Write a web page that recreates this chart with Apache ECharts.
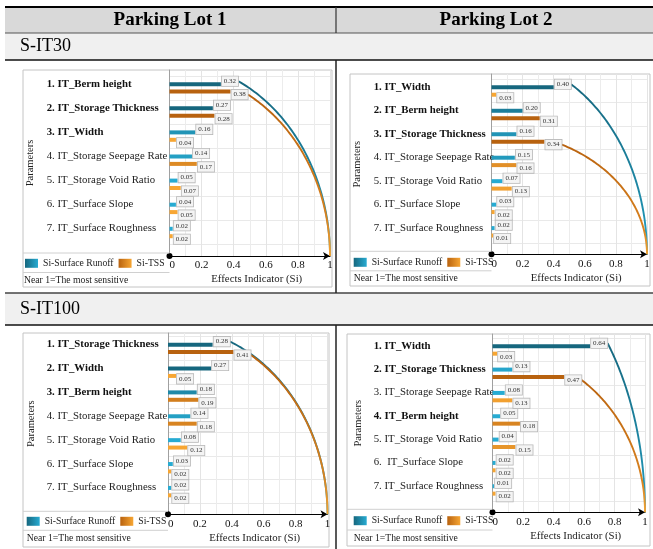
<!DOCTYPE html>
<html>
<head>
<meta charset="utf-8">
<script src="https://cdn.jsdelivr.net/npm/echarts@6/dist/echarts.min.js"></script>
<style>
html, body { margin: 0; padding: 0; background: #ffffff; }
#chart { width: 653px; height: 549px; }
</style>
</head>
<body>
<div id="chart"></div>
<script>
// Sensitivity index (Si) of the infiltration-trench (IT) parameters,
// for surface runoff and TSS, two parking lots and two storm scenarios.

const seriesNames = ['Si-Surface Runoff', 'Si-TSS'];
const tickLabels = ['0', '0.2', '0.4', '0.6', '0.8', '1'];
const lotNames = ['Parking Lot 1', 'Parking Lot 2'];
const scenarioNames = ['S-IT30', 'S-IT100'];

// Parking Lot 1, S-IT30
const lot1It30Params = ['1. IT_Berm height', '2. IT_Storage Thickness', '3. IT_Width',
  '4. IT_Storage Seepage Rate', '5. IT_Storage Void Ratio', '6. IT_Surface Slope', '7. IT_Surface Roughness'];
const lot1It30Runoff = [0.32, 0.27, 0.16, 0.14, 0.05, 0.04, 0.02];
const lot1It30Tss = [0.38, 0.28, 0.04, 0.17, 0.07, 0.05, 0.02];

// Parking Lot 2, S-IT30
const lot2It30Params = ['1. IT_Width', '2. IT_Berm height', '3. IT_Storage Thickness',
  '4. IT_Storage Seepage Rate', '5. IT_Storage Void Ratio', '6. IT_Surface Slope', '7. IT_Surface Roughness'];
const lot2It30Runoff = [0.40, 0.20, 0.16, 0.15, 0.07, 0.03, 0.02];
const lot2It30Tss = [0.03, 0.31, 0.34, 0.16, 0.13, 0.02, 0.01];

// Parking Lot 1, S-IT100
const lot1It100Params = ['1. IT_Storage Thickness', '2. IT_Width', '3. IT_Berm height',
  '4. IT_Storage Seepage Rate', '5. IT_Storage Void Ratio', '6. IT_Surface Slope', '7. IT_Surface Roughness'];
const lot1It100Runoff = [0.28, 0.27, 0.18, 0.14, 0.08, 0.03, 0.02];
const lot1It100Tss = [0.41, 0.05, 0.19, 0.18, 0.12, 0.02, 0.02];

// Parking Lot 2, S-IT100
const lot2It100Params = ['1. IT_Width', '2. IT_Storage Thickness', '3. IT_Storage Seepage Rate',
  '4. IT_Berm height', '5. IT_Storage Void Ratio', '6.  IT_Surface Slope', '7. IT_Surface Roughness'];
const lot2It100Runoff = [0.64, 0.13, 0.08, 0.05, 0.04, 0.02, 0.01];
const lot2It100Tss = [0.03, 0.47, 0.13, 0.18, 0.15, 0.02, 0.02];

const FONT = '"Liberation Serif", "Times New Roman", serif';

// panel layout (pixels)
const panels = [
  { params: lot1It30Params, runoff: lot1It30Runoff, tss: lot1It30Tss, bold: [0, 1, 2],
    box: [23, 70, 309, 217], x0: 169.5, x1: 330, catTop: 75.85, band: 24.1, axisY: 256,
    labelX: 46.7, paramX: 30, legend: [25, 264.3], near: [24, 280.7] },
  { params: lot2It30Params, runoff: lot2It30Runoff, tss: lot2It30Tss, bold: [0, 1, 2],
    box: [350, 74, 300, 212], x0: 491.5, x1: 647, catTop: 79.27, band: 23.47, axisY: 254.3,
    labelX: 373.7, paramX: 357.7, legend: [353.7, 263.3], near: [353.7, 278.3] },
  { params: lot1It100Params, runoff: lot1It100Runoff, tss: lot1It100Tss, bold: [0, 1, 2],
    box: [23, 333, 306, 214], x0: 168, x1: 327.5, catTop: 336.4, band: 23.88, axisY: 514.3,
    labelX: 46.7, paramX: 31.7, legend: [26.7, 522.3], near: [26.7, 538.3] },
  { params: lot2It100Params, runoff: lot2It100Runoff, tss: lot2It100Tss, bold: [0, 1, 3],
    box: [347, 334, 303, 212], x0: 492.5, x1: 645, catTop: 338.3, band: 23.33, axisY: 512.3,
    labelX: 373.7, paramX: 358.7, legend: [353.7, 521.7], near: [353.7, 538.3] }
];

const palette = {
  runoff: { dark: '#16677e', light: '#27abd2' },
  tss: { dark: '#b8620f', light: '#f7a633' }
};

const BAR_W = 4;
const BAR_GAP = 0.85;
const BAR_SHIFT = BAR_W * (1 + BAR_GAP) / 2;
const LABEL_SHIFT = 3;
const LABEL_W = 16.5;

function hexToRgb(h) {
  const n = parseInt(h.slice(1), 16);
  return [(n >> 16) & 255, (n >> 8) & 255, n & 255];
}
function mix(c1, c2, t) {
  const a = hexToRgb(c1), b = hexToRgb(c2);
  const r = a.map((v, i) => Math.round(v + (b[i] - v) * t));
  return 'rgb(' + r.join(',') + ')';
}
function barColor(kind, v) {
  const t = Math.max(0, Math.min(1, (v - 0.12) / 0.12));
  return mix(palette[kind].light, palette[kind].dark, t);
}
function hGradient(kind) {
  return new echarts.graphic.LinearGradient(0, 0, 1, 0, [
    { offset: 0, color: palette[kind].dark },
    { offset: 1, color: palette[kind].light }
  ]);
}
function vGradient(kind) {
  return new echarts.graphic.LinearGradient(0, 0, 0, 1, [
    { offset: 0, color: palette[kind].dark },
    { offset: 0.75, color: kind === 'runoff' ? '#1f8fae' : '#d9821f' },
    { offset: 1, color: palette[kind].light }
  ]);
}
function argMax(arr) {
  let k = 0;
  arr.forEach((v, i) => { if (v > arr[k]) k = i; });
  return k;
}

const grid = [], xAxis = [], yAxis = [], series = [], legend = [], graphic = [];

// table backgrounds and rules
graphic.push(
  { type: 'rect', z: -20, shape: { x: 5, y: 8, width: 648, height: 25 }, style: { fill: '#d9d9d9' } },
  { type: 'rect', z: -20, shape: { x: 5, y: 33, width: 648, height: 27 }, style: { fill: '#f0f0f0' } },
  { type: 'rect', z: -20, shape: { x: 5, y: 293, width: 648, height: 32 }, style: { fill: '#f0f0f0' } },
  { type: 'line', z: 20, shape: { x1: 5, y1: 7, x2: 653, y2: 7 }, style: { stroke: '#000', lineWidth: 2 } },
  { type: 'line', z: 20, shape: { x1: 5, y1: 33, x2: 653, y2: 33 }, style: { stroke: '#555', lineWidth: 1 } },
  { type: 'line', z: 20, shape: { x1: 5, y1: 60, x2: 653, y2: 60 }, style: { stroke: '#111', lineWidth: 1.5 } },
  { type: 'line', z: 20, shape: { x1: 5, y1: 293, x2: 653, y2: 293 }, style: { stroke: '#444', lineWidth: 1.5 } },
  { type: 'line', z: 20, shape: { x1: 5, y1: 325, x2: 653, y2: 325 }, style: { stroke: '#111', lineWidth: 1.5 } },
  { type: 'line', z: 20, shape: { x1: 336, y1: 7, x2: 336, y2: 33 }, style: { stroke: '#333', lineWidth: 1.2 } },
  { type: 'line', z: 20, shape: { x1: 336, y1: 60, x2: 336, y2: 293 }, style: { stroke: '#222', lineWidth: 1.5 } },
  { type: 'line', z: 20, shape: { x1: 336, y1: 325, x2: 336, y2: 549 }, style: { stroke: '#222', lineWidth: 1.5 } },
  { type: 'text', z: 20, x: 170, y: 20, style: { text: lotNames[0], font: 'bold 19px ' + FONT, fill: '#000', align: 'center', verticalAlign: 'middle' } },
  { type: 'text', z: 20, x: 496, y: 20, style: { text: lotNames[1], font: 'bold 19px ' + FONT, fill: '#000', align: 'center', verticalAlign: 'middle' } },
  { type: 'text', z: 20, x: 20, y: 46.5, style: { text: scenarioNames[0], font: '18px ' + FONT, fill: '#000', align: 'left', verticalAlign: 'middle' } },
  { type: 'text', z: 20, x: 20, y: 309, style: { text: scenarioNames[1], font: '18px ' + FONT, fill: '#000', align: 'left', verticalAlign: 'middle' } }
);

panels.forEach((p, k) => {
  const gA = 2 * k, gB = 2 * k + 1;
  const n = p.params.length;
  const [bx, by, bw, bh] = p.box;
  const axisGap = p.axisY - (p.catTop + n * p.band);

  // panel frame and left-column rules
  graphic.push(
    { type: 'rect', z: -10, shape: { x: bx, y: by, width: bw, height: bh }, style: { fill: '#fff', stroke: '#c4c4c4', lineWidth: 1 } },
    { type: 'line', z: 1, shape: { x1: bx, y1: p.axisY - 3, x2: p.x0, y2: p.axisY - 3 }, style: { stroke: '#d0d0d0', lineWidth: 1 } },
    { type: 'line', z: 1, shape: { x1: bx, y1: (p.legend[1] + p.near[1]) / 2, x2: p.x0, y2: (p.legend[1] + p.near[1]) / 2 }, style: { stroke: '#d0d0d0', lineWidth: 1 } },
    { type: 'text', z: 5, x: p.paramX, y: (by + p.axisY) / 2, rotation: Math.PI / 2,
      style: { text: 'Parameters', font: '10.5px ' + FONT, fill: '#222', align: 'center', verticalAlign: 'middle' } },
    { type: 'text', z: 5, x: p.near[0], y: p.near[1],
      style: { text: 'Near 1=The most sensitive', font: '9.7px ' + FONT, fill: '#222', align: 'left', verticalAlign: 'middle' } }
  );

  // grid A: parameter bars
  grid.push({ left: p.x0, top: p.catTop, width: p.x1 - p.x0, height: n * p.band, containLabel: false });
  // grid B: effects-indicator axis and background grid
  grid.push({ left: p.x0, top: by, width: p.x1 - p.x0, height: p.axisY - by, containLabel: false });

  xAxis.push({
    gridIndex: gA, type: 'value', min: 0, max: 1, show: false
  });
  yAxis.push({
    gridIndex: gA, type: 'category', data: p.params, inverse: true,
    axisLine: { show: false }, axisTick: { show: false },
    splitLine: { show: true, lineStyle: { color: '#e9e9e9', width: 1 } },
    axisLabel: {
      align: 'left', margin: p.x0 - p.labelX, padding: [0, 0, 8, 0],
      formatter: (v, i) => (p.bold.indexOf(i) >= 0 ? '{b|' + v + '}' : '{n|' + v + '}'),
      rich: {
        b: { fontFamily: FONT, fontSize: 10.8, fontWeight: 'bold', color: '#111' },
        n: { fontFamily: FONT, fontSize: 10.8, color: '#222' }
      }
    }
  });

  xAxis.push({
    gridIndex: gB, type: 'value', min: 0, max: 1, interval: 0.2,
    axisLine: { show: true, symbol: ['circle', 'arrow'], symbolSize: [6, 7], lineStyle: { color: '#000', width: 1.2 } },
    axisTick: { show: false },
    minorTick: { show: false, splitNumber: 2 },
    splitLine: { show: true, lineStyle: { color: '#e4e4e4', width: 1 } },
    minorSplitLine: { show: true, lineStyle: { color: '#ececec', width: 1 } },
    axisLabel: {
      margin: 4, fontFamily: FONT, fontSize: 11, color: '#111', alignMinLabel: 'left',
      formatter: v => tickLabels[Math.round(v / 0.2)]
    },
    name: 'Effects Indicator (Si)', nameLocation: 'middle', nameGap: 18,
    nameTextStyle: { fontFamily: FONT, fontSize: 10.8, color: '#222', padding: [0, 0, 0, 14] }
  });
  yAxis.push({
    gridIndex: gB, type: 'value', min: 0, max: 1,
    axisLine: { show: true, lineStyle: { color: '#a0a0a0', width: 1 } },
    axisTick: { show: false }, axisLabel: { show: false }, splitLine: { show: false }
  });

  const labelStyle = sign => ({
    show: true, position: 'right', distance: 1, offset: [0, sign * LABEL_SHIFT],
    formatter: prm => prm.value.toFixed(2),
    fontFamily: FONT, fontSize: 7, color: '#333',
    backgroundColor: '#f4f4f4', borderColor: '#b8b8b8', borderWidth: 0.8,
    padding: [1.5, 2, 1, 2]
  });

  series.push({
    type: 'bar', name: seriesNames[0], xAxisIndex: gA, yAxisIndex: gA,
    data: p.runoff, barWidth: BAR_W, barGap: (BAR_GAP * 100) + '%',
    itemStyle: { color: prm => barColor('runoff', prm.value) },
    label: labelStyle(-1), silent: true, z: 3
  });
  series.push({
    type: 'bar', name: seriesNames[1], xAxisIndex: gA, yAxisIndex: gA,
    data: p.tss, barWidth: BAR_W, barGap: (BAR_GAP * 100) + '%',
    itemStyle: { color: prm => barColor('tss', prm.value) },
    label: labelStyle(1), silent: true, z: 3
  });

  // arcs from the most sensitive parameter of each output down to Si = 1
  const iR = argMax(p.runoff), iT = argMax(p.tss);
  series.push({
    type: 'custom', coordinateSystem: 'cartesian2d', xAxisIndex: gA, yAxisIndex: gA,
    clip: false, silent: true, z: 2,
    data: [[p.runoff[iR], iR, -1, 0], [p.tss[iT], iT, 1, 1]],
    renderItem: (params, api) => {
      const v = api.value(0), idx = api.value(1), sign = api.value(2), kind = api.value(3) ? 'tss' : 'runoff';
      const band = api.size([0, 1])[1];
      const c = api.coord([v, idx]);
      const o = api.coord([0, idx]);
      const e = api.coord([1, idx]);
      const last = api.coord([0, n - 1]);
      const yBase = last[1] + band / 2 + axisGap;
      const xs = c[0] + 1 + LABEL_W;
      const ys = c[1] + sign * (BAR_SHIFT + LABEL_SHIFT);
      const a = e[0] - o[0];
      const cr = Math.min((xs - o[0]) / a, 0.999);
      const b = (yBase - ys) / Math.sqrt(1 - cr * cr);
      const t0 = Math.acos(cr);
      const pts = [];
      const steps = 80;
      for (let s = 0; s <= steps; s++) {
        const t = t0 * (1 - s / steps);
        pts.push([o[0] + a * Math.cos(t), yBase - b * Math.sin(t)]);
      }
      return {
        type: 'polyline', shape: { points: pts },
        style: { fill: null, stroke: vGradient(kind), lineWidth: 1.9 }
      };
    }
  });

  legend.push({
    left: p.legend[0], top: p.legend[1] - 6, padding: 0, itemGap: 5,
    itemWidth: 13, itemHeight: 9, selectedMode: false, icon: 'rect',
    textStyle: { fontFamily: FONT, fontSize: 9.7, color: '#222' },
    data: [
      { name: seriesNames[0], itemStyle: { color: hGradient('runoff') } },
      { name: seriesNames[1], itemStyle: { color: hGradient('tss') } }
    ]
  });
});

const chart = echarts.init(document.getElementById('chart'), null, { renderer: 'canvas' });
chart.setOption({
  animation: false,
  backgroundColor: '#ffffff',
  grid, xAxis, yAxis, series, legend, graphic
});
</script>
</body>
</html>
